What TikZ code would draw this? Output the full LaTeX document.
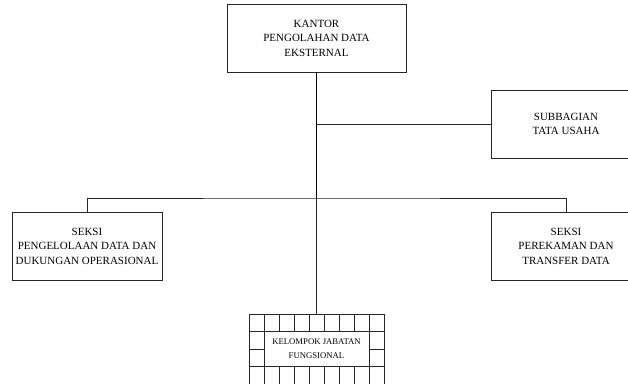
\documentclass[tikz,border=0pt]{standalone}
\usepackage{fontspec}
\setmainfont{Liberation Serif}
\usetikzlibrary{positioning}
\tikzstyle{unit}  = [rectangle, draw=black!85, line width=0.9pt, text centered, align=center, fill=white, inner sep=0pt, font=\fontsize{11}{14.5}\selectfont]
\tikzstyle{small} = [font=\fontsize{8.7}{14}\selectfont]
\tikzstyle{line}  = [draw=black!85, line width=0.9pt]
\tikzstyle{trunk} = [draw=black, line width=1.4pt]

\begin{document}
\begin{tikzpicture}[x=1pt, y=-1pt]
            \useasboundingbox (0,0) rectangle (628,383);
            % 1. kepala kantor
            \node (kantor) [unit, minimum width=179pt, minimum height=68pt] at (316.5,38) {KANTOR\\PENGOLAHAN DATA\\EKSTERNAL};
            % 2. subbagian tata usaha (kanan)
            \node (subbag) [unit, minimum width=150pt, minimum height=68pt] at (566,124) {SUBBAGIAN\\TATA USAHA};
            % 3. seksi kiri
            \node (seksikiri) [unit, minimum width=150pt, minimum height=68pt] at (87,246) {SEKSI\\PENGELOLAAN DATA DAN\\DUKUNGAN OPERASIONAL};
            % 4. seksi kanan
            \node (seksikanan) [unit, minimum width=150pt, minimum height=68pt] at (566,246) {SEKSI\\PEREKAMAN DAN\\TRANSFER DATA};
            % 5. kelompok jabatan fungsional (kotak berpetak)
            \node (jabfung) [rectangle, draw=black!85, line width=0.9pt, minimum width=135pt, minimum height=70pt, inner sep=0pt] at (316.5,349) {};
            \foreach \gx in {264,279,...,369} \draw [line] (\gx,314) -- (\gx,384);
            \foreach \gy in {331.5,349,366.5} \draw [line] (249,\gy) -- (384,\gy);
            \node (jabfungteks) [unit, small, minimum width=105pt, minimum height=35pt] at (316.5,349) {KELOMPOK JABATAN\\FUNGSIONAL};

            % garis hubung
            \coordinate (cabang) at (316.5,198);                        % titik percabangan
            \draw [trunk] (kantor.south) -- (cabang);                    % kantor → percabangan
            \draw [line] (cabang) -- (jabfung.north);                    % percabangan → jabatan fungsional
            \draw [line] (subbag.west) -- (subbag.west -| kantor.south); % subbagian → garis utama
            \draw [line] (seksikiri.north) |- (cabang) -| (seksikanan.north);

        \end{tikzpicture}
\end{document}
